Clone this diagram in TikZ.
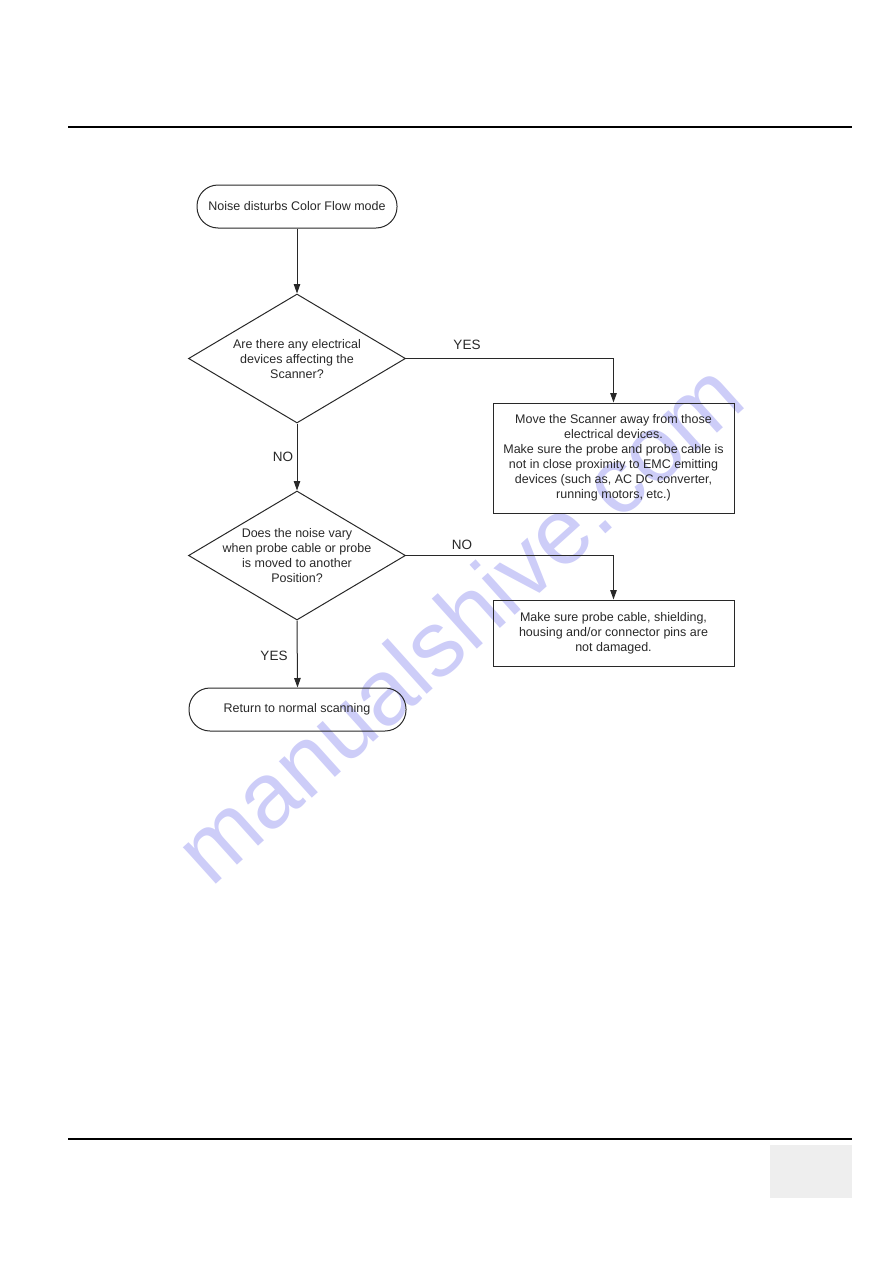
\documentclass[tikz,border=0pt]{standalone}
\usepackage{fontspec}
\setmainfont{Liberation Sans}
\usetikzlibrary{shapes.geometric,arrows.meta}
\definecolor{ink}{RGB}{40,40,40}
\definecolor{wm}{RGB}{205,205,248}
\definecolor{tabgray}{RGB}{238,238,238}
\tikzset{
  txt/.style={font=\fontsize{12.5}{15}\selectfont, text=ink, align=center, inner sep=0pt},
  term/.style={draw=ink, line width=1pt, rectangle, rounded corners=21pt, inner sep=0pt},
  dia/.style={draw=ink, line width=1pt, diamond, inner sep=0pt, minimum width=217pt, minimum height=129pt},
  procbox/.style={draw=ink, line width=1pt, rectangle, inner sep=0pt},
  arr/.style={draw=ink, line width=1pt, -{Triangle[length=9.5pt,width=6.5pt]}},
  lbl/.style={font=\fontsize{13.5}{16}\selectfont, text=ink, inner sep=0pt}
}
\begin{document}
\begin{tikzpicture}[x=1pt,y=-1pt]
\useasboundingbox (0,0) rectangle (893,1263);
% watermark
\node[text=wm, font=\fontsize{93}{93}\selectfont, rotate=42, inner sep=0pt] (wmark) at (458,622) {manualshive.com};
% page rules
\draw[line width=1.6pt] (68,127) -- (852,127);
\draw[line width=1.6pt] (68,1139) -- (852,1139);
\fill[tabgray] (770,1145) rectangle (852,1198);
% nodes
\node[term, minimum width=200pt, minimum height=43pt] (start) at (297,206.5) {};
\node[txt] (startt) at (start) {Noise disturbs Color Flow mode};
\node[dia] (d1) at (297,358.5) {};
\node[txt] (d1t) at (297,359.5) {Are there any electrical\\devices affecting the\\Scanner?};
\node[procbox, minimum width=241pt, minimum height=110pt] (box1) at (613.5,458) {};
\node[txt] (box1t) at (613.5,458) {Move the Scanner away from those\\electrical devices.\\Make sure the probe and probe cable is\\not in close proximity to EMC emitting\\devices (such as, AC DC converter,\\running motors, etc.)};
\node[dia] (d2) at (297,555.5) {};
\node[txt] (d2t) at (297,556) {Does the noise vary\\when probe cable or probe\\is moved to another\\Position?};
\node[procbox, minimum width=241pt, minimum height=66pt] (box2) at (613.5,633) {};
\node[txt] (box2t) at (613.5,633.5) {Make sure probe cable, shielding,\\housing and/or connector pins are\\not damaged.};
\node[term, minimum width=217pt, minimum height=43pt] (end) at (297.5,709.5) {};
\node[txt] (endt) at (297,709.5) {Return to normal scanning};
% connectors
\draw[arr] (start.south) -- (d1.north);
\draw[arr] (d1.east) -| (box1.north);
\draw[arr] (d1.south) -- (d2.north);
\draw[arr] (d2.east) -| (box2.north);
\draw[arr] (d2.south) -- (end.north);
% labels
\node[lbl] (yes1) at (467,345) {YES};
\node[lbl] (no1) at (283,457) {NO};
\node[lbl] (no2) at (462,545) {NO};
\node[lbl] (yes2) at (274,656) {YES};
\end{tikzpicture}
\end{document}
